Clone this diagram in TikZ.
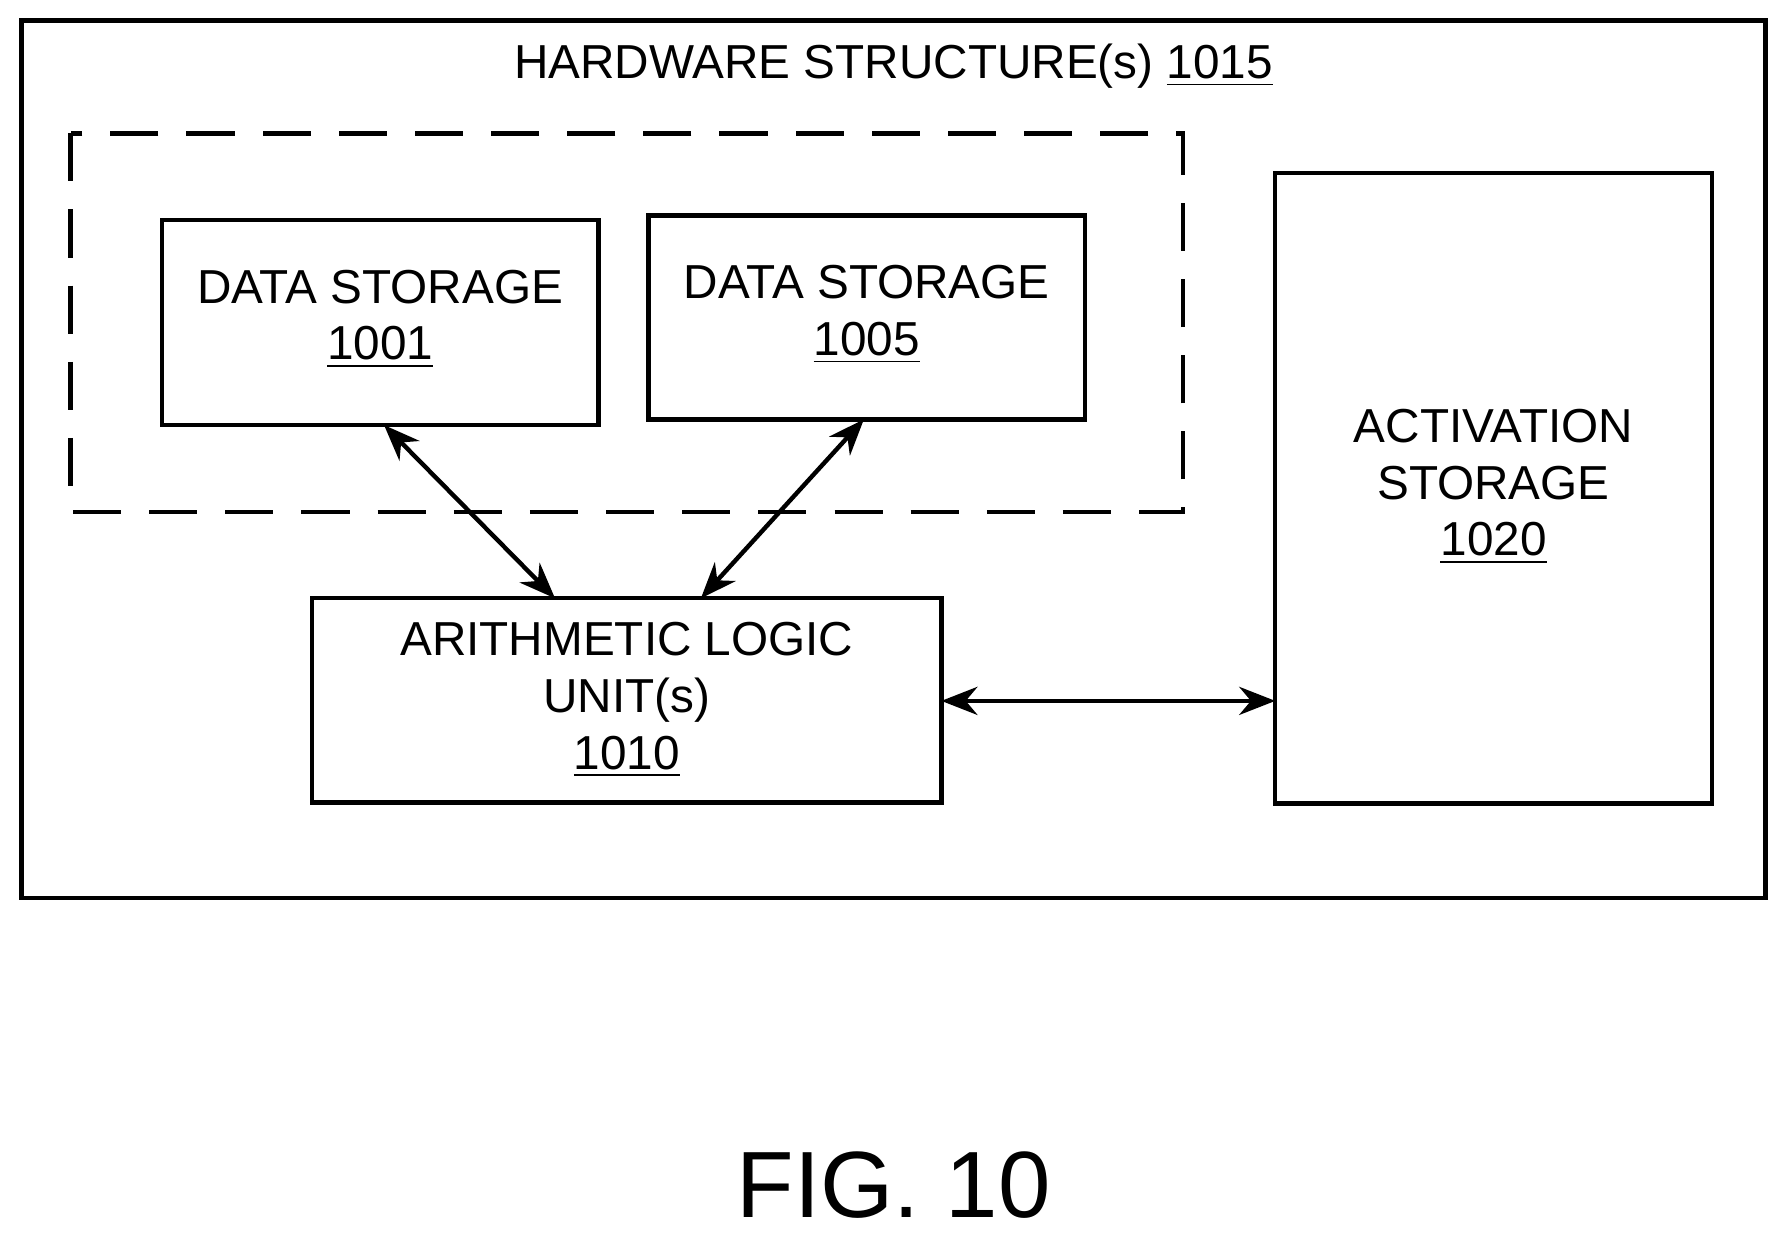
\documentclass[tikz,border=0pt]{standalone}
\usepackage{fontspec}
\setmainfont{Liberation Sans}
\usetikzlibrary{arrows.meta}
\begin{document}
\begin{tikzpicture}[x=0.01cm,y=-0.01cm,
  box/.style={draw,line width=1.1pt},
  lbl/.style={align=center,font=\fontsize{11.9}{14.2}\selectfont},
  arr/.style={{Stealth[length=9pt,width=7pt]}-{Stealth[length=9pt,width=7pt]},line width=1.1pt}]
\useasboundingbox (0,0) rectangle (1568,1088);
\draw[box] (19,18) rectangle (1549,788);
\node[lbl] (title) at (784,58) {HARDWARE STRUCTURE(s) \underline{1015}};
\draw[box,dash pattern=on 12pt off 7pt] (62,117) rectangle (1038,449);
\node[box,inner sep=0,minimum width=3.83cm,minimum height=1.8cm] (d1) at (333.5,283) {};
\node[lbl] at (333.5,280) {DATA STORAGE\\\underline{1001}};
\node[box,inner sep=0,minimum width=3.83cm,minimum height=1.79cm] (d5) at (760.5,278.5) {};
\node[lbl] at (760.5,276) {DATA STORAGE\\\underline{1005}};
\node[box,inner sep=0,minimum width=5.52cm,minimum height=1.79cm] (alu) at (550,614.5) {};
\node[lbl] at (550,614) {ARITHMETIC LOGIC\\UNIT(s)\\\underline{1010}};
\node[box,inner sep=0,minimum width=3.83cm,minimum height=5.53cm] (act) at (1310.5,428.5) {};
\node[lbl] at (1310.5,427) {ACTIVATION\\STORAGE\\\underline{1020}};
\coordinate (a1) at (337,373); \coordinate (b1) at (487,525);
\coordinate (a2) at (758,368); \coordinate (b2) at (615,525);
\coordinate (a3) at (826,615); \coordinate (b3) at (1119,615);
\draw[arr] (a1) -- (b1);
\draw[arr] (a2) -- (b2);
\draw[arr] (a3) -- (b3);
\node[font=\fontsize{23.5}{28}\selectfont] (fig) at (784,1040) {FIG. 10};
\end{tikzpicture}
\end{document}
